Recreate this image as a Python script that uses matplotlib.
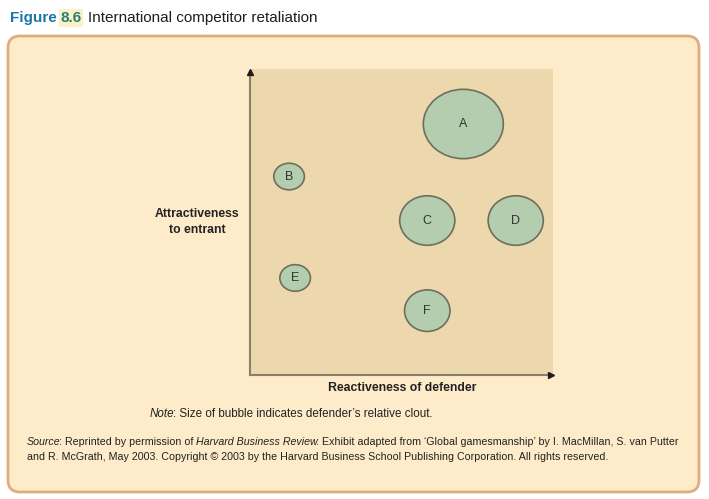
import matplotlib
matplotlib.use('Agg')
import matplotlib.pyplot as plt
from matplotlib.patches import Ellipse, FancyBboxPatch

plt.rcParams['font.family'] = ['Liberation Sans', 'DejaVu Sans']

# bubble data (axes units 0-100)
labels = ['A', 'B', 'C', 'D', 'E', 'F']
x_vals = [70.4, 12.9, 58.5, 87.7, 14.9, 58.5]
y_vals = [82.0, 64.8, 50.4, 50.4, 31.6, 20.9]
widths = [26.4, 10.1, 18.2, 18.2, 10.1, 15.0]
heights = [22.7, 8.7, 16.2, 16.2, 8.7, 13.6]

title_fig = 'Figure'
title_num = '8.6'
title_text = 'International competitor retaliation'
x_label = 'Reactiveness of defender'
y_label = 'Attractiveness\nto entrant'

W, H = 709, 499
fig = plt.figure(figsize=(W / 100, H / 100), dpi=100)
fig.patch.set_facecolor('white')

# background axes in pixel coords
bg = fig.add_axes([0, 0, 1, 1])
bg.set_xlim(0, W)
bg.set_ylim(H, 0)
bg.axis('off')

box = FancyBboxPatch((8, 36), 691, 456, boxstyle='round,pad=0,rounding_size=12',
                     facecolor='#FEEBC9', edgecolor='#E2AB7C', linewidth=2)
bg.add_patch(box)

renderer = fig.canvas.get_renderer()


def put_runs(x, y, runs, size, color='#222222'):
    # draw text pieces one after another on the same baseline
    for s, style in runs:
        t = bg.text(x, y, s, fontsize=size, fontstyle=style,
                    color=color, va='baseline', ha='left')
        bb = t.get_window_extent(renderer=renderer)
        x += bb.width - (2 if style == 'italic' else 0)


t = bg.text(10, 22, title_fig, fontsize=11, fontweight='bold', color='#1B75A8', va='baseline')
bb = t.get_window_extent(renderer=renderer)
x0 = 10 + bb.width + 4
t2 = bg.text(x0, 22, title_num, fontsize=11, fontweight='bold', color='#2A7F72', va='baseline',
             bbox=dict(boxstyle='square,pad=0.1', facecolor='#FBF1C8', edgecolor='none'))
bb2 = t2.get_window_extent(renderer=renderer)
bg.text(x0 + bb2.width + 6, 22, title_text, fontsize=11, color='#1E1E1E', va='baseline')

# chart axes
left, right, top, bottom = 250, 553, 69, 374.5
ax = fig.add_axes([left / W, 1 - bottom / H, (right - left) / W, (bottom - top) / H])
ax.set_facecolor('#EDD8AE')
ax.set_xlim(0, 100)
ax.set_ylim(0, 100)
for s in ax.spines.values():
    s.set_visible(False)
ax.set_xticks([])
ax.set_yticks([])

for lab, xv, yv, w, h in zip(labels, x_vals, y_vals, widths, heights):
    ax.add_patch(Ellipse((xv, yv), w, h, facecolor='#B5CDAF', edgecolor='#6E6E5E', linewidth=1.2))
    ax.text(xv, yv, lab, ha='center', va='center', fontsize=9, color='#333333')

# axis lines with dark arrowheads
ax.plot([0, 0], [0, 0.98], transform=ax.transAxes, color='#8A7E6A', lw=1.5, clip_on=False)
ax.plot([0, 0.98], [0, 0], transform=ax.transAxes, color='#8A7E6A', lw=1.5, clip_on=False)
ax.plot([0], [0.99], transform=ax.transAxes, marker='^', ms=5, color='#1E1E1E', clip_on=False)
ax.plot([0.995], [0], transform=ax.transAxes, marker='>', ms=5, color='#1E1E1E', clip_on=False)

bg.text(402, 388, x_label, ha='center', va='center', fontsize=8.8, fontweight='bold', color='#222222')
bg.text(197, 222, y_label, ha='center', va='center', fontsize=8.8, fontweight='bold',
        color='#222222', linespacing=1.55)

put_runs(150, 417, [('Note', 'italic'),
                    (': Size of bubble indicates defender\u2019s relative clout.', 'normal')], 8.4)

put_runs(27, 445, [('Source', 'italic'),
                   (': Reprinted by permission of ', 'normal'),
                   ('Harvard Business Review', 'italic'),
                   ('. Exhibit adapted from \u2018Global gamesmanship\u2019 by I. MacMillan, S. van Putter',
                    'normal')], 7.7)
put_runs(27, 460, [('and R. McGrath, May 2003. Copyright \u00a9 2003 by the Harvard Business School '
                    'Publishing Corporation. All rights reserved.', 'normal')], 7.7)

fig.savefig('out.png', dpi=100)
